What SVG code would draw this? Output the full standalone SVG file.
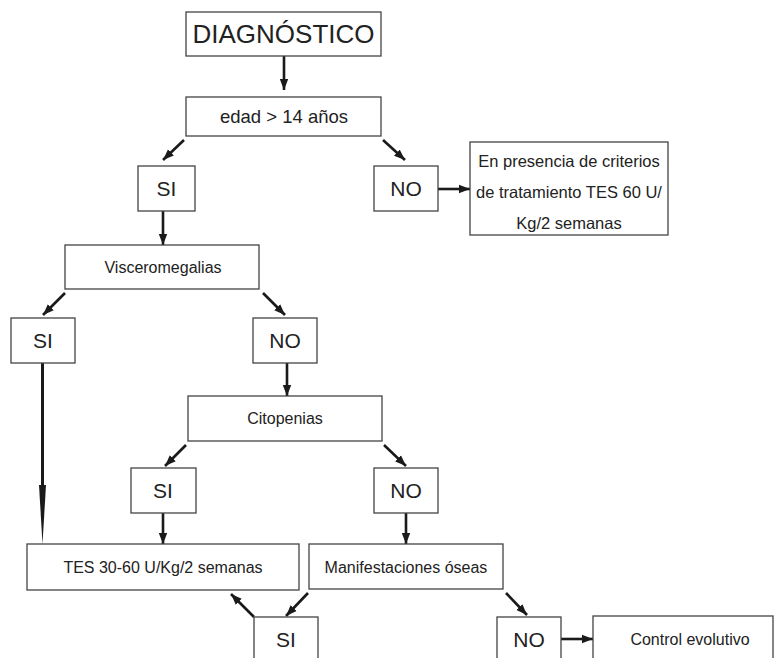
<svg xmlns="http://www.w3.org/2000/svg" width="780" height="658" viewBox="0 0 780 658">
<style>
.box{fill:#fff;stroke:#444;stroke-width:1.3}
.t{font-family:"Liberation Sans",Arial,sans-serif;fill:#222;text-anchor:middle}
.s16{font-size:16px}
.yn{font-size:21px}
.c{stroke:#1a1a1a;stroke-width:2.6;fill:none;marker-end:url(#ah)}
</style>
<defs>
<marker id="ah" markerUnits="userSpaceOnUse" markerWidth="12" markerHeight="10" refX="11" refY="5" orient="auto">
<path d="M0,0.8 L11,5 L0,9.2 Z" fill="#1a1a1a"/>
</marker>
</defs>
<rect width="780" height="658" fill="#fff"/>

<g id="connectors">
<line class="c" x1="284" y1="56" x2="284" y2="90"/>
<line class="c" x1="184" y1="140" x2="163" y2="160"/>
<line class="c" x1="383" y1="140" x2="405" y2="160"/>
<line class="c" x1="438" y1="189" x2="470" y2="189"/>
<line class="c" x1="163" y1="211" x2="163" y2="245"/>
<line class="c" x1="65" y1="293" x2="43" y2="315"/>
<line class="c" x1="263" y1="293" x2="285" y2="315"/>
<line x1="42.5" y1="363" x2="42.5" y2="487" stroke="#1a1a1a" stroke-width="3"/>
<polygon points="39,485 46,485 42.5,544" fill="#1a1a1a"/>
<line class="c" x1="287" y1="363" x2="287" y2="396"/>
<line class="c" x1="186" y1="445" x2="165" y2="466"/>
<line class="c" x1="384" y1="445" x2="406" y2="466"/>
<line class="c" x1="163" y1="513" x2="163" y2="544"/>
<line class="c" x1="406" y1="513" x2="406" y2="544"/>
<line class="c" x1="254" y1="617" x2="231" y2="594"/>
<line class="c" x1="308" y1="593" x2="286" y2="616"/>
<line class="c" x1="506" y1="593" x2="527" y2="615"/>
<line class="c" x1="561" y1="639" x2="593" y2="639"/>
</g>

<g id="diagnostico">
<rect class="box" x="186" y="12" width="195" height="44"/>
<text class="t" x="283.5" y="43" font-size="26">DIAGNÓSTICO</text>
</g>
<g id="edad">
<rect class="box" x="186" y="97" width="195" height="39"/>
<text class="t" x="284" y="123" font-size="18.5">edad &gt; 14 años</text>
</g>
<g id="si1">
<rect class="box" x="138" y="166" width="57" height="45"/>
<text class="t yn" x="166.5" y="196">SI</text>
</g>
<g id="no1">
<rect class="box" x="374" y="166" width="64" height="45"/>
<text class="t yn" x="406" y="196">NO</text>
</g>
<g id="tes60">
<rect class="box" x="470" y="142" width="198" height="93"/>
<text class="t" x="569" y="167" font-size="16.5">En presencia de criterios</text>
<text class="t" x="569" y="198" font-size="16.5">de tratamiento TES 60 U/</text>
<text class="t" x="569" y="229" font-size="16.5">Kg/2 semanas</text>
</g>
<g id="visceromegalias">
<rect class="box" x="65" y="245" width="194" height="44"/>
<text class="t s16" x="163" y="273">Visceromegalias</text>
</g>
<g id="si2">
<rect class="box" x="11" y="318" width="64" height="45"/>
<text class="t yn" x="43" y="348">SI</text>
</g>
<g id="no2">
<rect class="box" x="253" y="318" width="64" height="45"/>
<text class="t yn" x="285" y="348">NO</text>
</g>
<g id="citopenias">
<rect class="box" x="188" y="396" width="194" height="45"/>
<text class="t s16" x="285" y="424">Citopenias</text>
</g>
<g id="si3">
<rect class="box" x="131" y="468" width="65" height="45"/>
<text class="t yn" x="163" y="498">SI</text>
</g>
<g id="no3">
<rect class="box" x="374" y="468" width="64" height="45"/>
<text class="t yn" x="406" y="498">NO</text>
</g>
<g id="tes3060">
<rect class="box" x="27" y="544" width="272" height="46"/>
<text class="t s16" x="163" y="573">TES 30-60 U/Kg/2 semanas</text>
</g>
<g id="manifestaciones">
<rect class="box" x="309" y="544" width="194" height="45"/>
<text class="t s16" x="406" y="573">Manifestaciones óseas</text>
</g>
<g id="si4">
<rect class="box" x="254" y="617" width="64" height="60"/>
<text class="t yn" x="286" y="647">SI</text>
</g>
<g id="no4">
<rect class="box" x="497" y="617" width="64" height="60"/>
<text class="t yn" x="529" y="647">NO</text>
</g>
<g id="control">
<rect class="box" x="593" y="616" width="180" height="60"/>
<text class="t s16" x="690" y="645">Control evolutivo</text>
</g>
</svg>
